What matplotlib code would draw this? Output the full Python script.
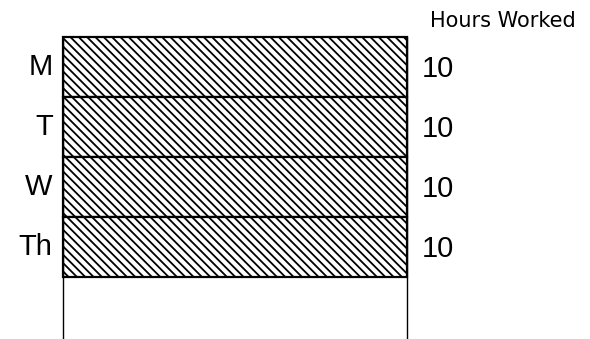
import matplotlib.pyplot as plt
import numpy as np

plt.rcParams['font.family'] = ['Liberation Sans', 'DejaVu Sans']
plt.rcParams['hatch.linewidth'] = 1.3

# Data
days = ['M', 'T', 'W', 'Th']
hours = [10, 10, 10, 10]
title = 'Hours Worked'

W, H = 590, 339
fig = plt.figure(figsize=(W / 100, H / 100), dpi=100)
ax = fig.add_axes([63 / W, 0, (407 - 63) / W, (H - 37) / H])

starts = np.concatenate([[0], np.cumsum(hours)[:-1]])
centers = starts + np.array(hours) / 2

bars = ax.bar(np.full(len(days), 0.5), hours, width=1.0, bottom=starts,
              color='white', edgecolor='black', linewidth=1.6,
              hatch='\\' * 4, align='center')
for b in bars:
    b.set_clip_on(False)

ax.set_xlim(0, 1)
ax.set_ylim(50.3, 0)

for s in ['top', 'bottom']:
    ax.spines[s].set_visible(False)
for s in ['left', 'right']:
    ax.spines[s].set_linewidth(1.0)

ax.set_xticks([])
ax.set_yticks([])

tr = ax.get_yaxis_transform()
for d, c, h in zip(days, centers, hours):
    ax.text(-0.03, c, d, transform=tr, ha='right', va='center', fontsize=21)
    ax.text(1.044, c + 0.3, str(h), transform=tr, ha='left', va='center', fontsize=21)

fig.text(430 / W, (H - 27) / H, title, ha='left', va='baseline', fontsize=15,
         family='DejaVu Sans')

fig.savefig('out.png', dpi=100)
